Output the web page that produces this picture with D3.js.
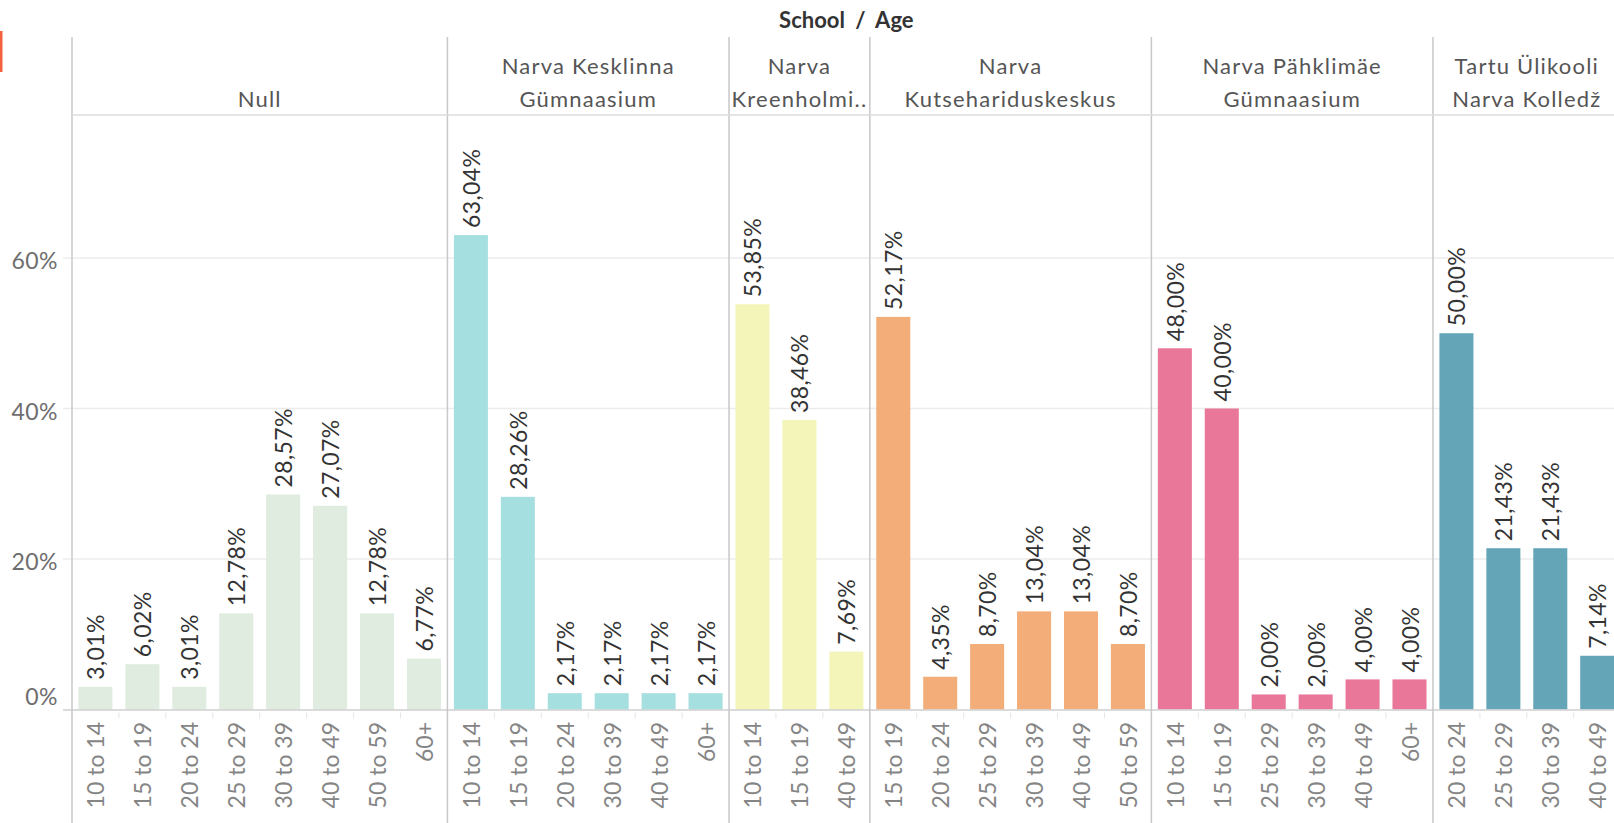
<!DOCTYPE html>
<html>
<head>
<meta charset="utf-8">
<script src="https://cdn.jsdelivr.net/npm/d3@7"></script>
<style>
  html, body { margin: 0; padding: 0; background: #fff; overflow: hidden; }
  svg { display: block; font-family: Lato, "Open Sans", sans-serif; }
</style>
</head>
<body>
<svg id="chart" width="1614" height="823"></svg>
<script>
// ---- data ----
const schools = ["Null", "Narva Kesklinna Gümnaasium", "Narva Kreenholmi..", "Narva Kutsehariduskeskus", "Narva Pähklimäe Gümnaasium", "Tartu Ülikooli Narva Kolledž"];
const schoolHeaderLines = [["", "Null"], ["Narva Kesklinna", "Gümnaasium"], ["Narva", "Kreenholmi.."], ["Narva", "Kutsehariduskeskus"], ["Narva Pähklimäe", "Gümnaasium"], ["Tartu Ülikooli", "Narva Kolledž"]];
const schoolColors = ["#dfecdf", "#a6dfe0", "#f3f5b9", "#f2ad79", "#e87799", "#64a6b8"];

const agesNull = ["10 to 14", "15 to 19", "20 to 24", "25 to 29", "30 to 39", "40 to 49", "50 to 59", "60+"];
const valuesNull = [3.01, 6.02, 3.01, 12.78, 28.57, 27.07, 12.78, 6.77];
const agesKesklinna = ["10 to 14", "15 to 19", "20 to 24", "30 to 39", "40 to 49", "60+"];
const valuesKesklinna = [63.04, 28.26, 2.17, 2.17, 2.17, 2.17];
const agesKreenholmi = ["10 to 14", "15 to 19", "40 to 49"];
const valuesKreenholmi = [53.85, 38.46, 7.69];
const agesKutse = ["15 to 19", "20 to 24", "25 to 29", "30 to 39", "40 to 49", "50 to 59"];
const valuesKutse = [52.17, 4.35, 8.70, 13.04, 13.04, 8.70];
const agesPahklimae = ["10 to 14", "15 to 19", "25 to 29", "30 to 39", "40 to 49", "60+"];
const valuesPahklimae = [48.00, 40.00, 2.00, 2.00, 4.00, 4.00];
const agesTartu = ["20 to 24", "25 to 29", "30 to 39", "40 to 49"];
const valuesTartu = [50.00, 21.43, 21.43, 7.14];

const yTicks = [0, 20, 40, 60];

// ---- build rows ----
const agesBySchool = [agesNull, agesKesklinna, agesKreenholmi, agesKutse, agesPahklimae, agesTartu];
const valuesBySchool = [valuesNull, valuesKesklinna, valuesKreenholmi, valuesKutse, valuesPahklimae, valuesTartu];
const rows = [];
schools.forEach((s, si) => {
  agesBySchool[si].forEach((a, ai) => {
    rows.push({ school: s, si, age: a, key: s + "|" + a, value: valuesBySchool[si][ai] });
  });
});

// ---- layout ----
const left = 72, plotTop = 115, zeroY = 709.5;
const step = 46.93;
const right = left + rows.length * step;

const svg = d3.select("#chart");

const x = d3.scaleBand()
  .domain(rows.map(d => d.key))
  .range([left, right])
  .paddingInner(0.275)
  .paddingOuter(0.1375);
const y = d3.scaleLinear().domain([0, 79]).range([zeroY, plotTop]);

const slotOffset = (x.step() - x.bandwidth()) / 2;

// small orange marker at the far left
svg.append("rect").attr("x", 0).attr("y", 31).attr("width", 2.5).attr("height", 41).attr("fill", "#f4603e");

// gridlines
svg.append("g").selectAll("line").data(yTicks.filter(t => t > 0)).join("line")
  .attr("x1", left - 9).attr("x2", 1614)
  .attr("y1", d => y(d)).attr("y2", d => y(d))
  .attr("stroke", "#ececec").attr("stroke-width", 1.5);

// y axis labels
svg.append("g").selectAll("text").data(yTicks).join("text")
  .attr("x", 58).attr("y", d => y(d) + (d === 0 ? -14 : 2.5))
  .attr("text-anchor", "end").attr("dominant-baseline", "central")
  .attr("font-size", 23).attr("fill", "#6e6e6e").attr("letter-spacing", 0.5)
  .text(d => d + "%");

// bars
svg.append("g").selectAll("rect").data(rows).join("rect")
  .attr("x", d => x(d.key))
  .attr("width", x.bandwidth())
  .attr("y", d => y(d.value))
  .attr("height", d => y(0) - y(d.value))
  .attr("fill", d => schoolColors[d.si]);

// value labels
const fmt = d3.format(".2f");
svg.append("g").selectAll("text").data(rows).join("text")
  .attr("transform", d => `translate(${x(d.key) + x.bandwidth() / 2},${y(d.value) - 7}) rotate(-90)`)
  .attr("text-anchor", "start").attr("dominant-baseline", "central")
  .attr("font-size", 23).attr("fill", "#333").attr("letter-spacing", 0.4)
  .text(d => fmt(d.value).replace(".", ",") + "%");

// zero axis line
svg.append("line").attr("x1", left - 9).attr("x2", 1614)
  .attr("y1", zeroY + 0.5).attr("y2", zeroY + 0.5)
  .attr("stroke", "#cfcfcf").attr("stroke-width", 1.5);

// x tick separators
svg.append("g").selectAll("line").data(rows).join("line")
  .attr("x1", d => x(d.key) - slotOffset).attr("x2", d => x(d.key) - slotOffset)
  .attr("y1", zeroY + 3).attr("y2", zeroY + 9)
  .attr("stroke", "#e6e6e6").attr("stroke-width", 1);

// x tick labels
svg.append("g").selectAll("text").data(rows).join("text")
  .attr("transform", d => `translate(${x(d.key) + x.bandwidth() / 2},722) rotate(-90)`)
  .attr("text-anchor", "end").attr("dominant-baseline", "central")
  .attr("font-size", 23).attr("fill", "#858585")
  .text(d => d.age);

// panel dividers & headers
const panelStarts = schools.map(s => {
  const first = rows.find(r => r.school === s);
  return x(first.key) - slotOffset;
});
const panelEnds = schools.map((s, i) => i < schools.length - 1 ? panelStarts[i + 1] : right);

svg.append("g").selectAll("line").data(panelStarts).join("line")
  .attr("x1", d => d).attr("x2", d => d)
  .attr("y1", 37).attr("y2", 823)
  .attr("stroke", "#c8c8c8").attr("stroke-width", 1.5);

// header bottom line
svg.append("line").attr("x1", left).attr("x2", 1614)
  .attr("y1", 115).attr("y2", 115)
  .attr("stroke", "#dcdcdc").attr("stroke-width", 1.5);

const hdr = svg.append("g");
schools.forEach((s, i) => {
  const cx = (panelStarts[i] + panelEnds[i]) / 2;
  const lines = schoolHeaderLines[i];
  lines.forEach((ln, li) => {
    if (!ln) return;
    hdr.append("text")
      .attr("x", cx).attr("y", 74 + li * 33)
      .attr("text-anchor", "middle")
      .attr("font-size", 22).attr("fill", "#555").attr("letter-spacing", 1.2)
      .text(ln);
  });
});

// overall header
svg.append("text")
  .attr("x", (left + right) / 2).attr("y", 28)
  .attr("text-anchor", "middle")
  .attr("font-size", 22).attr("font-weight", "bold").attr("fill", "#333")
  .attr("word-spacing", 5)
  .text("School / Age");
</script>
</body>
</html>
